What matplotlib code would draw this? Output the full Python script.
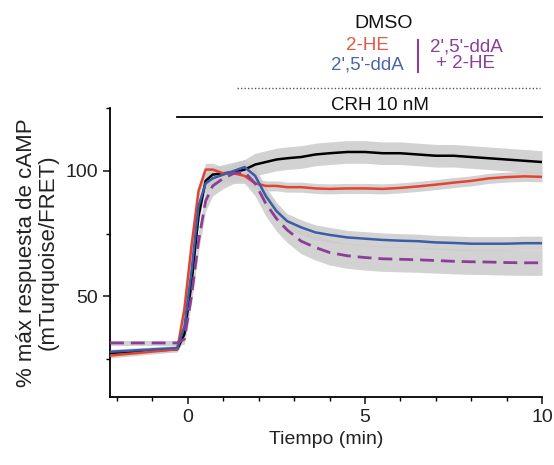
import matplotlib
matplotlib.use("Agg")
import matplotlib.pyplot as plt
from matplotlib.ticker import MultipleLocator

plt.rcParams['font.family'] = ['Liberation Sans', 'DejaVu Sans']

# time (min)
t = [-2.2, -0.3, -0.1, 0.1, 0.3, 0.5, 0.7, 1.0, 1.3, 1.6, 1.9, 2.2, 2.5, 2.8,
     3.2, 3.6, 4.0, 4.5, 5.0, 5.5, 6.0, 6.5, 7.0, 7.5, 8.0, 8.5, 9.0, 9.5, 10.0]

dmso = [27.5, 29, 35, 55, 82, 96, 98.5, 99, 99.5, 100.5, 102.5, 103.5, 104.5, 105,
        105.5, 106.5, 107, 107.5, 107.5, 107, 107, 106.5, 106, 106, 105.5, 105, 104.5, 104, 103.5]
dmso_sem = [1, 1, 2, 3, 3, 3, 3, 3.5, 4, 4, 4.5, 4.5, 4.5, 4.5,
            4.5, 4.5, 4.5, 4.5, 4.5, 4.5, 4.5, 4.5, 4.5, 4.5, 4.5, 4.5, 4.5, 4.5, 4.5]

he = [26.5, 29, 45, 70, 92, 100.5, 100.5, 99, 99, 98, 95, 94, 94, 93.5,
      93.5, 93, 92.8, 93, 93, 92.8, 93.2, 93.8, 94.5, 95.3, 96, 97, 97.5, 97.8, 97.6]
he_sem = [1, 1, 2, 3, 2.5, 2.5, 2.5, 2.5, 2.5, 2.5, 2, 2, 2, 2,
          2, 2, 2, 2, 2, 2, 2, 2, 2, 2, 2, 2, 2, 2, 2]

dda = [28, 29.5, 38, 60, 86, 95, 97, 98.5, 100, 101.5, 98, 90, 84, 80,
       77.5, 75.5, 74.5, 73.5, 73, 72.5, 72.2, 72, 71.5, 71.3, 71, 71, 71, 71.2, 71.2]
dda_sem = [1, 1, 2, 3, 3, 3, 3, 3, 3, 3, 3.5, 3.5, 3.5, 3,
           3, 3, 3, 2.8, 2.8, 2.8, 2.8, 2.8, 2.8, 2.8, 2.8, 2.8, 2.8, 2.8, 2.8]

dda_he = [31.5, 31.5, 33, 50, 72, 88, 94, 97, 99, 99.5, 95, 87, 81, 76.5,
          72, 69.5, 67.5, 66.2, 65.5, 65, 64.8, 64.6, 64.3, 64, 63.8, 63.7, 63.5, 63.4, 63.4]
dda_he_sem = [1, 1, 2, 3, 4, 4, 4, 4, 4, 4.5, 5, 5, 5, 5,
              5, 5, 5, 5, 5, 5, 5, 5, 5, 5, 5, 5, 5, 5, 5]

crh_start, crh_end, crh_level = -0.3, 10.0, 121.5

xticks = [0, 5, 10]
yticks = [50, 100]

red = '#e5422f'
blue = '#3d5ca6'
purple = '#8c3d98'
band = '#cbcbcb'

fig = plt.figure(figsize=(5.54, 4.65), dpi=100)
ax = fig.add_axes([110/554, 1-397/465, (542-110)/554, (397-108)/465])

series = [(dmso, dmso_sem, 'black', '-'),
          (he, he_sem, red, '-'),
          (dda, dda_sem, blue, '-'),
          (dda_he, dda_he_sem, purple, '--')]

for y, e, c, ls in series:
    lo = [a - b for a, b in zip(y, e)]
    hi = [a + b for a, b in zip(y, e)]
    ax.fill_between(t, lo, hi, color=band, lw=0, alpha=0.85, zorder=1)
for y, e, c, ls in series:
    if ls == '--':
        ax.plot(t, y, color=c, lw=2.0, ls=(0, (5, 2.5)), zorder=3)
    else:
        ax.plot(t, y, color=c, lw=1.8, zorder=3)

ax.plot([crh_start, crh_end], [crh_level, crh_level], color='black', lw=1.3,
        clip_on=False, zorder=4)

ax.set_xlim(-2.2, 10)
ax.set_ylim(10, 125)
ax.set_xticks(xticks)
ax.set_yticks(yticks)
ax.xaxis.set_minor_locator(MultipleLocator(1))
ax.yaxis.set_minor_locator(MultipleLocator(25))
ax.tick_params(which='major', direction='out', length=5, width=1.2, labelsize=14, colors='#222222')
ax.tick_params(which='minor', direction='out', length=3, width=1.0)
for s in ['top', 'right']:
    ax.spines[s].set_visible(False)
for s in ['left', 'bottom']:
    ax.spines[s].set_linewidth(1.3)

ax.set_xlabel('Tiempo (min)', fontsize=14, color='#222222', labelpad=4)
ax.set_ylabel('% máx respuesta de cAMP\n(mTurquoise/FRET)', fontsize=16,
              color='#222222', labelpad=5, linespacing=1.05)

# annotations in pixel positions
def ft(x, y, s, **kw):
    fig.text(x/554, 1-y/465, s, ha='center', va='center', **kw)

ft(384, 24, 'DMSO', fontsize=14, color='#111111')
ft(367, 45, '2-HE', fontsize=13.5, color='#e25a45')
ft(367, 65, "2',5'-ddA", fontsize=13.5, color='#4a66aa')
ft(466, 55, "2',5'-ddA\n+ 2-HE", fontsize=13.5, color=purple, linespacing=0.95)
fig.add_artist(plt.Line2D([418/554, 418/554], [1-40/465, 1-72/465], color=purple, lw=1.5))
fig.add_artist(plt.Line2D([237/554, 540/554], [1-88/465, 1-88/465], color='#555555',
                          lw=1.0, ls=(0, (1, 1.5))))
ft(380, 105, 'CRH 10 nM', fontsize=13.5, color='#111111')

fig.savefig('out.png', dpi=100)
